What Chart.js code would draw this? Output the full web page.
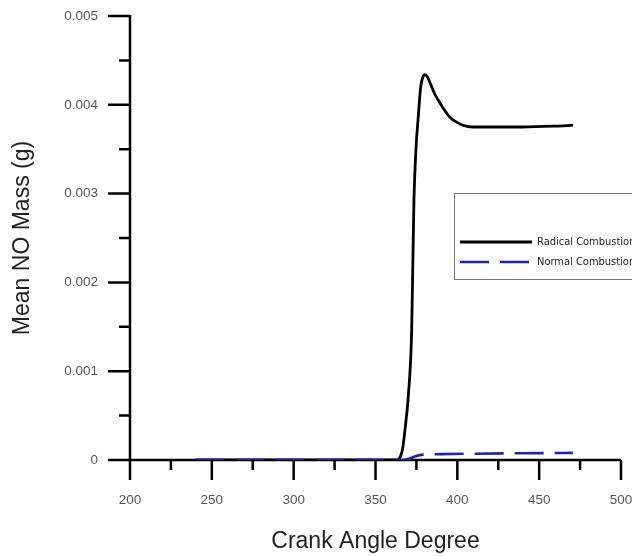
<!DOCTYPE html>
<html>
<head>
<meta charset="utf-8">
<script src="https://cdn.jsdelivr.net/npm/chart.js@4/dist/chart.umd.min.js"></script>
<style>
  html, body { margin: 0; padding: 0; background: #fff; }
  #chart { display: block; }
</style>
</head>
<body>
<canvas id="chart" width="632" height="556"></canvas>
<script>
// crank angle (deg) and mean NO mass (g) for each run
var radicalAngle = [240, 300, 363, 365, 366.5, 368, 370, 372.1, 372.8, 373.5, 374.7, 376.1, 377.6, 378.9, 380.2, 381.8, 383.3, 386, 389.4, 392.5, 395.5, 399, 403.4, 409.5, 420, 440, 460, 470.6];
var radicalNO = [0, 0, 0, 0.00003, 0.00012, 0.00034, 0.00071, 0.00146, 0.0022, 0.00293, 0.00349, 0.00386, 0.0042, 0.00431, 0.00434, 0.00431, 0.00425, 0.00413, 0.00402, 0.00393, 0.00386, 0.00381, 0.00377, 0.00375, 0.00375, 0.00375, 0.00376, 0.00377];

var normalAngle = [240, 300, 366, 370, 374, 378, 390, 410, 440, 470.6];
var normalNO = [0, 0, 0, 0.00001, 0.00004, 0.000058, 0.000066, 0.000071, 0.000076, 0.00008];

var seriesNames = ['Radical Combustion', 'Normal Combustion'];

// axis ticks: labelled majors and unlabelled minors
var xMajor = [200, 250, 300, 350, 400, 450, 500];
var xMinor = [225, 275, 325, 375, 425, 475];
var yMajor = [0, 0.001, 0.002, 0.003, 0.004, 0.005];
var yMinor = [0.0005, 0.0015, 0.0025, 0.0035, 0.0045];
var yLabels = ['0', '0.001', '0.002', '0.003', '0.004', '0.005'];

var FONT = 'Arial, "Liberation Sans", sans-serif';

function toPoints(xs, ys) {
    return xs.map(function(x, i) { return {x: x, y: ys[i]}; });
}

// axis lines and tick marks, drawn under the curves
var axesPlugin = {
    id: 'axes',
    beforeDatasetsDraw: function(chart) {
        var ctx = chart.ctx;
        var xs = chart.scales.x, ys = chart.scales.y;
        var left = xs.getPixelForValue(200), right = xs.getPixelForValue(500);
        var bottom = ys.getPixelForValue(0), top = ys.getPixelForValue(0.005);
        ctx.save();
        ctx.strokeStyle = '#000';
        ctx.lineWidth = 2.5;
        ctx.lineCap = 'butt';
        ctx.beginPath();
        ctx.moveTo(left, top - 1);
        ctx.lineTo(left, bottom);
        ctx.lineTo(right, bottom);
        ctx.stroke();

        ctx.beginPath();
        yMajor.forEach(function(v) {
            var y = ys.getPixelForValue(v);
            ctx.moveTo(left - 22, y);
            ctx.lineTo(left, y);
        });
        yMinor.forEach(function(v) {
            var y = ys.getPixelForValue(v);
            ctx.moveTo(left - 11, y);
            ctx.lineTo(left, y);
        });
        xMajor.forEach(function(v) {
            var x = xs.getPixelForValue(v);
            ctx.moveTo(x, bottom);
            ctx.lineTo(x, bottom + 20);
        });
        xMinor.forEach(function(v) {
            var x = xs.getPixelForValue(v);
            ctx.moveTo(x, bottom);
            ctx.lineTo(x, bottom + 10);
        });
        ctx.stroke();
        ctx.restore();
    }
};

// boxed legend sitting inside the plot on the right
var legendBoxPlugin = {
    id: 'legendBox',
    afterDraw: function(chart) {
        var ctx = chart.ctx;
        ctx.save();
        ctx.strokeStyle = '#777';
        ctx.lineWidth = 1;
        ctx.strokeRect(454.5, 193.5, 200, 86);

        ctx.font = '11px "Liberation Sans Narrow", "DejaVu Sans Condensed", Arial, sans-serif';
        ctx.fillStyle = '#222';
        ctx.textBaseline = 'middle';
        chart.data.datasets.forEach(function(ds, i) {
            var y = 242 + i * 20;
            ctx.strokeStyle = ds.borderColor;
            ctx.lineWidth = ds.borderWidth;
            ctx.setLineDash(ds.borderDash || []);
            ctx.beginPath();
            ctx.moveTo(460, y);
            ctx.lineTo(532, y);
            ctx.stroke();
            ctx.setLineDash([]);
            ctx.fillText(ds.label, 537, y);
        });
        ctx.restore();
    }
};

var chart = new Chart(document.getElementById('chart'), {
    type: 'line',
    data: {
        datasets: [{
            label: seriesNames[0],
            data: toPoints(radicalAngle, radicalNO),
            borderColor: '#000',
            borderWidth: 2.8,
            pointRadius: 0,
            cubicInterpolationMode: 'monotone',
            order: 2
        }, {
            label: seriesNames[1],
            data: toPoints(normalAngle, normalNO),
            borderColor: '#2323a8',
            borderWidth: 2.6,
            borderDash: [29, 11],
            pointRadius: 0,
            cubicInterpolationMode: 'monotone',
            order: 1
        }]
    },
    options: {
        responsive: false,
        animation: false,
        devicePixelRatio: 1,
        layout: { padding: { top: 16, right: 11, left: 0, bottom: 0 } },
        plugins: { legend: { display: false }, tooltip: { enabled: false } },
        scales: {
            x: {
                type: 'linear',
                min: 200,
                max: 500,
                afterFit: function(scale) {
                    scale.height = 96;
                    scale.paddingLeft = 0;
                    scale.paddingRight = 0;
                },
                afterBuildTicks: function(scale) {
                    scale.ticks = xMajor.map(function(v) { return {value: v}; });
                },
                grid: { display: false, drawTicks: false },
                border: { display: false },
                ticks: {
                    padding: 32,
                    maxRotation: 0,
                    color: '#555',
                    font: { family: FONT, size: 13.5 }
                },
                title: {
                    display: true,
                    text: 'Crank Angle Degree',
                    color: '#222',
                    padding: { top: 0, bottom: 1 },
                    font: { family: FONT, size: 23 }
                }
            },
            y: {
                min: 0,
                max: 0.005,
                afterFit: function(scale) {
                    scale.width = 130;
                    scale.paddingTop = 0;
                    scale.paddingBottom = 0;
                },
                afterBuildTicks: function(scale) {
                    scale.ticks = yMajor.map(function(v) { return {value: v}; });
                },
                grid: { display: false, drawTicks: false },
                border: { display: false },
                ticks: {
                    padding: 32,
                    color: '#555',
                    font: { family: FONT, size: 13.5 },
                    callback: function(value, index) { return yLabels[index]; }
                },
                title: {
                    display: true,
                    text: 'Mean NO Mass (g)',
                    color: '#222',
                    padding: { top: 9, bottom: 0 },
                    font: { family: FONT, size: 23 }
                }
            }
        }
    },
    plugins: [axesPlugin, legendBoxPlugin]
});
</script>
</body>
</html>
